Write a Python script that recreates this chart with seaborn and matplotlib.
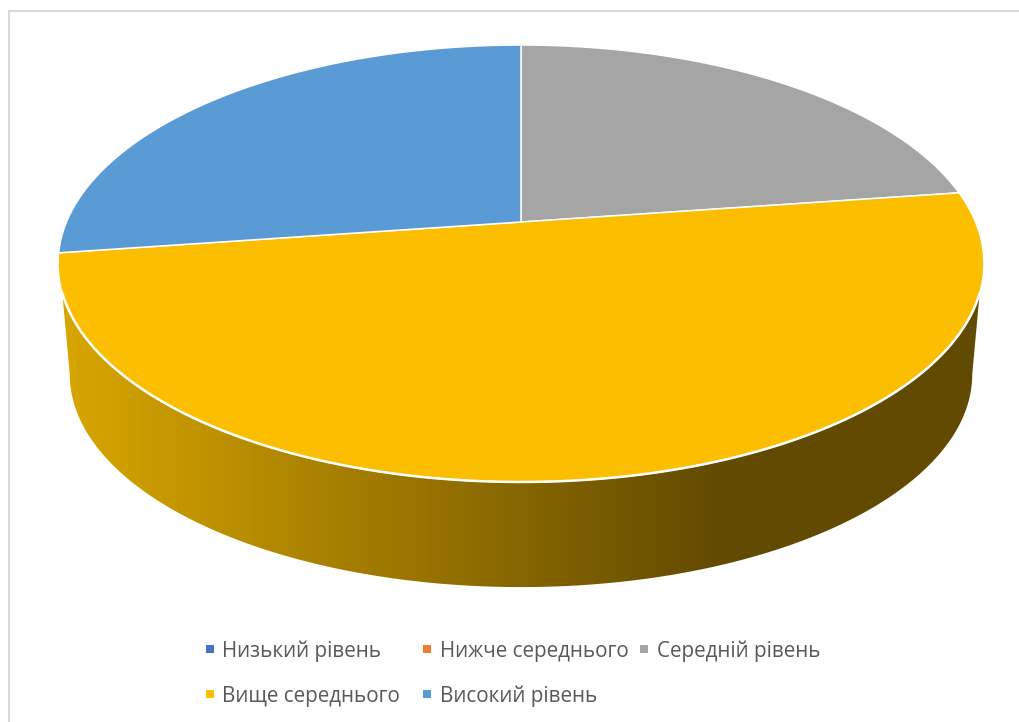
import numpy as np
import matplotlib
matplotlib.use("Agg")
import matplotlib.pyplot as plt
from matplotlib.patches import Polygon
from matplotlib.colors import LinearSegmentedColormap
import seaborn as sns

categories = ["Низький рівень", "Нижче середнього", "Середній рівень", "Вище середнього", "Високий рівень"]
values = [0, 0, 5, 11, 6]
colors = ["#4472C4", "#ED7D31", "#A5A5A5", "#FBBE00", "#5B9BD5"]

sns.set_theme(style="white")
plt.rcParams["font.family"] = ["Open Sans", "DejaVu Sans"]

fig = plt.figure(figsize=(10.2, 7.22), dpi=100, facecolor="white")
ax = fig.add_axes([0, 0, 1, 1])
ax.set_xlim(0, 1020)
ax.set_ylim(722, 0)
ax.axis("off")

# chart frame
ax.plot([9, 9, 1020], [722, 11, 11], color="#D9D9D9", lw=1.5, solid_joinstyle="miter")

K = 0.19


def project(theta, cx, cy, rx, ry):
    u, v = np.sin(theta), np.cos(theta)
    w = 1 + K * v
    return cx + rx * u / w, cy - ry * v / w


TOP = (521, 222, 454.5, 210.6)
BOT = (521, 334, 443, 205)

# side wall of the front (largest) slice
top_span = np.arccos(0.317)
bot_span = np.arccos(0.19)
th_t = np.linspace(np.pi - top_span, np.pi + top_span, 300)
th_b = np.linspace(np.pi - bot_span, np.pi + bot_span, 300)
xt, yt = project(th_t, *TOP)
xb, yb = project(th_b, *BOT)
wall = Polygon(np.r_[np.c_[xt, yt], np.c_[xb, yb][::-1]], closed=True, fc="none", ec="none")
ax.add_patch(wall)
cmap = LinearSegmentedColormap.from_list("wall", ["#D7A500", "#624A00"])
grad = np.clip((np.linspace(0, 1020, 512) - 70) / 650, 0, 1)[None, :]
im = ax.imshow(grad, extent=(0, 1020, 722, 0), cmap=cmap, vmin=0, vmax=1, aspect="auto", zorder=1)
im.set_clip_path(wall)
ax.set_xlim(0, 1020)
ax.set_ylim(722, 0)

# top face, slices clockwise from 12 o'clock
start = 0.0
total = sum(values)
for val, col in zip(values, colors):
    if val == 0:
        continue
    a0, a1 = start, start + val / total * 2 * np.pi
    t = np.linspace(a0, a1, 300)
    x, y = project(t, *TOP)
    ax.add_patch(Polygon(np.r_[[[TOP[0], TOP[1]]], np.c_[x, y]], closed=True, fc=col, ec="white",
                         lw=1.1, joinstyle="round", zorder=2))
    start = a1

# brighter rim where the top face meets the wall
ax.plot(xt, yt, color="white", lw=1.8, zorder=2.5)

# legend
marker_x = [210, 427, 644, 210, 427]
text_x = [222.5, 440, 657, 222.5, 440]
row_y = [649, 649, 649, 694, 694]
sns.scatterplot(x=marker_x, y=row_y, hue=categories, palette=colors, marker="s", s=33,
                linewidth=0, legend=False, ax=ax, zorder=3)
for tx, ty, label in zip(text_x, row_y, categories):
    ax.text(tx, ty, label, fontsize=14.85, color="#595959", va="center_baseline", ha="left")

fig.savefig("out.png", dpi=100)
